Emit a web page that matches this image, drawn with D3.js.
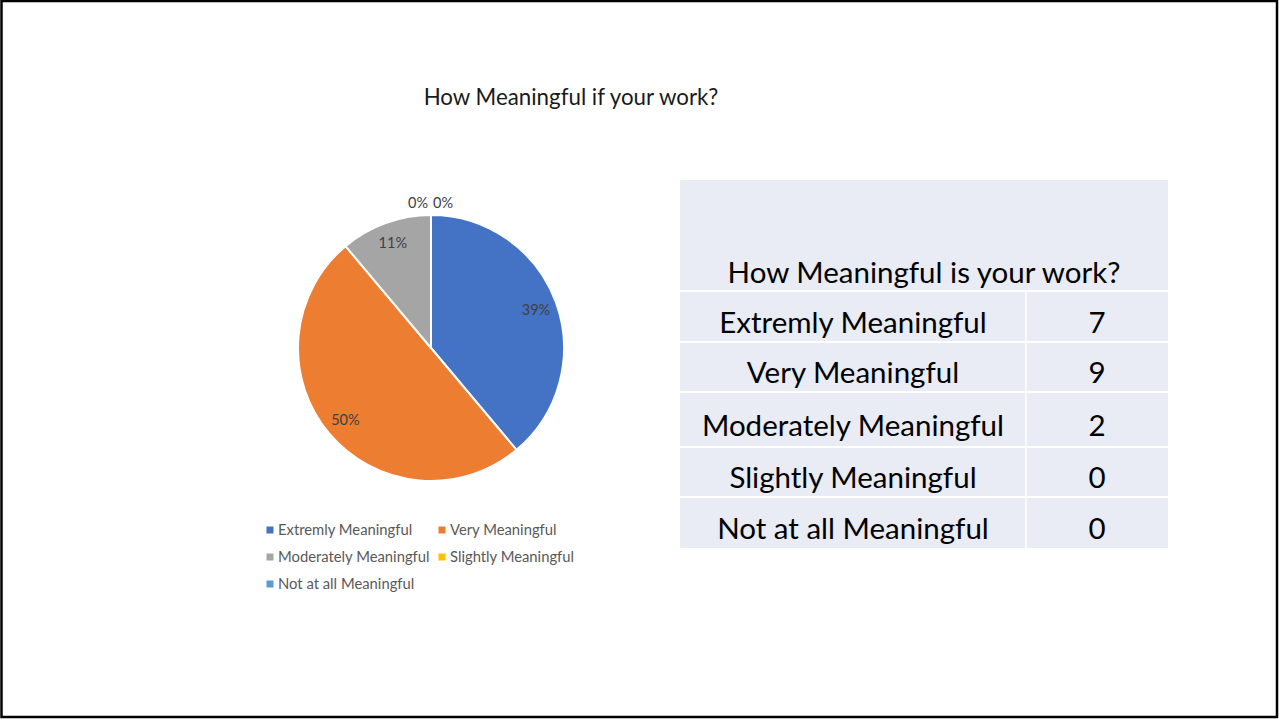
<!DOCTYPE html>
<html>
<head>
<meta charset="utf-8">
<script src="https://cdn.jsdelivr.net/npm/d3@7"></script>
<style>
  html, body { margin: 0; padding: 0; background: #fff; }
  svg { display: block; }
  text { font-family: Lato, "Open Sans", sans-serif; }
</style>
</head>
<body>
<svg id="chart" width="1279" height="719"></svg>
<script>
// Survey responses
const categories = ["Extremly Meaningful", "Very Meaningful", "Moderately Meaningful", "Slightly Meaningful", "Not at all Meaningful"];
const counts = [7, 9, 2, 0, 0];
const colors = ["#4472c4", "#ed7d31", "#a5a5a5", "#ffc000", "#5b9bd5"];
const chartTitle = "How Meaningful if your work?";
const tableTitle = "How Meaningful is your work?";

const svg = d3.select("#chart");

// Slide frame
svg.append("rect")
  .attr("x", 1.5).attr("y", 1).attr("width", 1275.5).attr("height", 716)
  .attr("fill", "#fff").attr("stroke", "#000").attr("stroke-width", 2.5);

// Chart title
svg.append("text")
  .attr("x", 571).attr("y", 105)
  .attr("text-anchor", "middle")
  .attr("font-size", 22.3)
  .attr("fill", "#1a1a1a")
  .text(chartTitle);

// Pie
const cx = 431, cy = 348, R = 133;
const total = d3.sum(counts);
const pie = d3.pie().sort(null).value(d => d.value);
const arcs = pie(categories.map((c, i) => ({ name: c, value: counts[i], color: colors[i] })));
const arc = d3.arc().innerRadius(0).outerRadius(R);
const labelArc = d3.arc().innerRadius(R * 0.84).outerRadius(R * 0.84);

const g = svg.append("g").attr("transform", `translate(${cx},${cy})`);
g.selectAll("path.slice")
  .data(arcs.filter(d => d.value > 0))
  .join("path")
  .attr("class", "slice")
  .attr("d", arc)
  .attr("fill", d => d.data.color)
  .attr("stroke", "#fff")
  .attr("stroke-width", 2)
  .attr("stroke-linejoin", "round");

const pct = d => d3.format(".0%")(d.value / total);
let zeroIdx = 0;
g.selectAll("text.lbl")
  .data(arcs)
  .join("text")
  .attr("class", "lbl")
  .attr("font-size", 14.5)
  .attr("fill", "#404040")
  .attr("text-anchor", "middle")
  .attr("dy", "0.35em")
  .attr("transform", d => {
    if (d.value > 0) {
      const [x, y] = labelArc.centroid(d);
      return `translate(${x},${y})`;
    }
    // empty slices sit just outside the rim, side by side
    const a = d.startAngle;
    const rr = R + 12;
    const off = zeroIdx++ === 0 ? -13 : 12;
    return `translate(${Math.sin(a) * rr + off},${-Math.cos(a) * rr})`;
  })
  .text(pct);

// Legend
const legendPos = [[270, 530], [442, 530], [270, 557], [442, 557], [270, 584]];
const lg = svg.append("g");
categories.forEach((c, i) => {
  const [x, y] = legendPos[i];
  lg.append("rect").attr("x", x - 3.5).attr("y", y - 3.5).attr("width", 7).attr("height", 7).attr("fill", colors[i]);
  lg.append("text").attr("x", x + 8).attr("y", y).attr("dy", "0.35em")
    .attr("font-size", 14.8).attr("fill", "#595959").text(c);
});

// Table
const tx0 = 680, tx1 = 1168, tsplit = 1026;
const headerTop = 180;
const rowEdges = [291, 342, 392, 447, 497, 548];
const fs = 29.5;
const tg = svg.append("g");
tg.append("rect").attr("x", tx0).attr("y", headerTop).attr("width", tx1 - tx0).attr("height", rowEdges[5] - headerTop)
  .attr("fill", "#e9ebf5");
tg.append("text").attr("x", (tx0 + tx1) / 2).attr("y", 283)
  .attr("text-anchor", "middle").attr("font-size", fs).attr("fill", "#000").text(tableTitle);

categories.forEach((c, i) => {
  const ym = (rowEdges[i] + rowEdges[i + 1]) / 2;
  tg.append("text").attr("x", (tx0 + tsplit) / 2).attr("y", ym).attr("dy", "0.55em")
    .attr("text-anchor", "middle").attr("font-size", fs).attr("fill", "#000").text(c);
  tg.append("text").attr("x", (tsplit + tx1) / 2).attr("y", ym).attr("dy", "0.55em")
    .attr("text-anchor", "middle").attr("font-size", fs).attr("fill", "#000").text(counts[i]);
});
// cell separators
rowEdges.slice(0, 5).forEach(y => {
  tg.append("line").attr("x1", tx0).attr("x2", tx1).attr("y1", y).attr("y2", y)
    .attr("stroke", "#fff").attr("stroke-width", 2);
});
tg.append("line").attr("x1", tsplit).attr("x2", tsplit).attr("y1", rowEdges[0]).attr("y2", rowEdges[5])
  .attr("stroke", "#fff").attr("stroke-width", 1.5);
</script>
</body>
</html>
